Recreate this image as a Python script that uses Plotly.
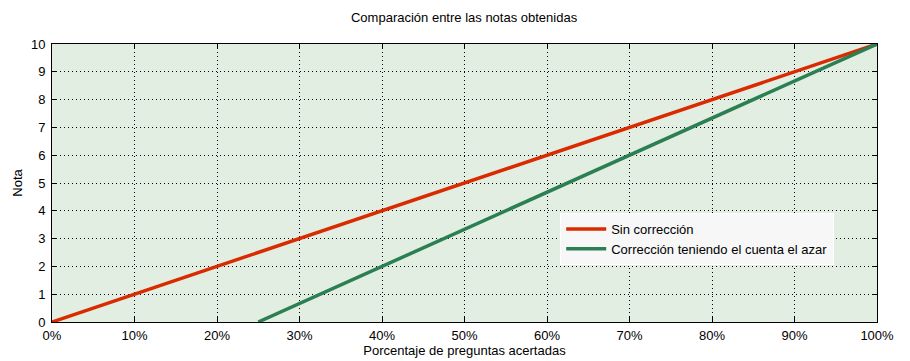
import plotly.graph_objects as go

# Data
pct_sin = [0, 10, 20, 30, 40, 50, 60, 70, 80, 90, 100]
nota_sin = [0, 1, 2, 3, 4, 5, 6, 7, 8, 9, 10]
pct_azar = [25, 30, 40, 50, 60, 70, 80, 90, 100]
nota_azar = [0, 0.667, 2, 3.333, 4.667, 6, 7.333, 8.667, 10]
x_ticks = [0, 10, 20, 30, 40, 50, 60, 70, 80, 90, 100]
x_ticklabels = ["0%", "10%", "20%", "30%", "40%", "50%", "60%", "70%", "80%", "90%", "100%"]
y_ticks = [0, 1, 2, 3, 4, 5, 6, 7, 8, 9, 10]

FONT = "Liberation Sans, Arial, sans-serif"
FS = 13

fig = go.Figure()
fig.add_trace(go.Scatter(x=pct_sin, y=nota_sin, mode="lines", name="Sin corrección",
                         line=dict(color="#d92a00", width=3.5)))
fig.add_trace(go.Scatter(x=pct_azar, y=nota_azar, mode="lines",
                         name="Corrección teniendo el cuenta el azar",
                         line=dict(color="#2b7f53", width=3.5)))

axis_common = dict(
    showline=True, linecolor="black", linewidth=1, mirror="allticks",
    ticks="inside", ticklen=5, tickcolor="black", tickwidth=1,
    showgrid=True, gridcolor="black", gridwidth=1, griddash="1px,3px",
    zeroline=False, automargin=False,
    tickfont=dict(family=FONT, size=FS, color="black"),
)

fig.update_xaxes(range=[0, 100], tickvals=x_ticks, ticktext=x_ticklabels,
                 ticklabelstandoff=1,
                 title=dict(text="Porcentaje de preguntas acertadas", standoff=0,
                            font=dict(family=FONT, size=FS, color="black")),
                 **axis_common)
fig.update_yaxes(range=[0, 10], tickvals=y_ticks, ticklabelstandoff=3,
                 title=dict(text="Nota", standoff=5,
                            font=dict(family=FONT, size=FS, color="black")),
                 **axis_common)

fig.update_layout(
    width=910, height=361,
    margin=dict(l=52, r=33, t=44, b=39),
    paper_bgcolor="white", plot_bgcolor="#e3eee3",
    title=dict(text="Comparación entre las notas obtenidas", x=0.51, xanchor="center",
               y=0.953, yanchor="middle", font=dict(family=FONT, size=FS, color="black")),
    font=dict(family=FONT, size=FS, color="black"),
    legend=dict(x=0.616, y=0.392, xanchor="left", yanchor="top",
                bgcolor="#f7f7f7", bordercolor="white", borderwidth=1,
                font=dict(family=FONT, size=FS, color="black"),
                tracegroupgap=0, itemwidth=40),
    showlegend=True,
)

fig.write_html("out.html", config={"displayModeBar": False},
               post_script="document.body.style.margin='0';")
